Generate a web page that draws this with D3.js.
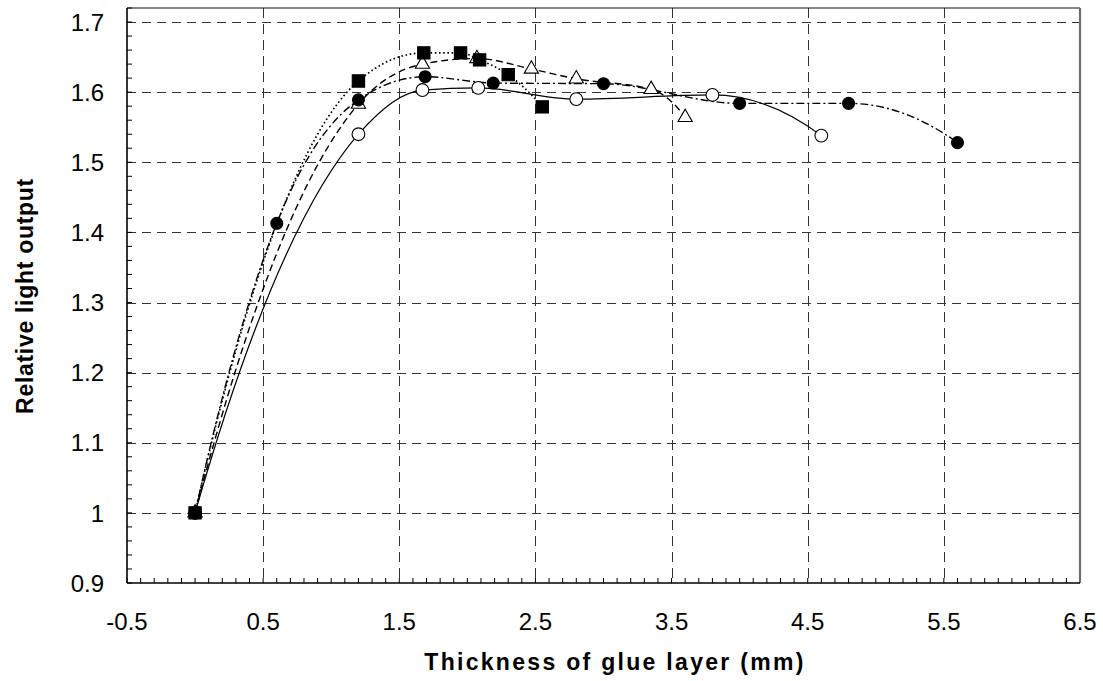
<!DOCTYPE html>
<html>
<head>
<meta charset="utf-8">
<script src="https://cdn.jsdelivr.net/npm/d3@7"></script>
<style>
  body { margin: 0; background: #fff; }
  text { font-family: Arial, "Liberation Sans", sans-serif; fill: #000; }
</style>
</head>
<body>
<script>
// thickness of glue layer (mm) and relative light output, one pair of arrays per series
var openX   = [0, 1.2, 1.67, 2.08, 2.8, 3.8, 4.6];
var openY   = [1.0, 1.540, 1.603, 1.606, 1.590, 1.596, 1.538];

var filledX = [0, 0.6, 1.2, 1.69, 2.19, 3.0, 4.0, 4.8, 5.6];
var filledY = [1.0, 1.413, 1.589, 1.622, 1.613, 1.612, 1.584, 1.584, 1.528];

var triX    = [0, 1.2, 1.67, 2.07, 2.47, 2.8, 3.35, 3.6];
var triY    = [1.0, 1.583, 1.640, 1.648, 1.633, 1.619, 1.604, 1.564];

var sqX     = [0, 1.2, 1.68, 1.95, 2.09, 2.3, 2.55];
var sqY     = [1.0, 1.616, 1.656, 1.656, 1.646, 1.625, 1.579];

var xTicks = [-0.5, 0.5, 1.5, 2.5, 3.5, 4.5, 5.5, 6.5];
var yTicks = [0.9, 1.0, 1.1, 1.2, 1.3, 1.4, 1.5, 1.6, 1.7];

var W = 1103, H = 681;
var plot = {left: 127, right: 1080, top: 8, bottom: 583};

var x = d3.scaleLinear().domain([-0.5, 6.5]).range([plot.left, plot.right]);
var y = d3.scaleLinear().domain([0.9, 1.72]).range([plot.bottom, plot.top]);

var svg = d3.select("body").append("svg")
    .attr("width", W)
    .attr("height", H);

// grid
svg.append("g").selectAll("line").data(yTicks.filter(d => d > 0.95))
  .enter().append("line")
    .attr("x1", plot.left).attr("x2", plot.right)
    .attr("y1", d => Math.round(y(d)) + 0.5).attr("y2", d => Math.round(y(d)) + 0.5)
    .style("stroke", "#333").style("stroke-width", 1).style("stroke-dasharray", "9,6");
svg.append("g").selectAll("line").data(xTicks.slice(1, -1))
  .enter().append("line")
    .attr("x1", d => Math.round(x(d)) + 0.5).attr("x2", d => Math.round(x(d)) + 0.5)
    .attr("y1", plot.top).attr("y2", plot.bottom)
    .style("stroke", "#333").style("stroke-width", 1).style("stroke-dasharray", "10,6");

// minor ticks, pointing inward
var xMinor = d3.range(-5, 66).map(i => i / 10);
var yMinor = d3.range(45, 87).map(i => i / 50);
svg.append("g").selectAll("line").data(xMinor)
  .enter().append("line")
    .attr("x1", d => x(d)).attr("x2", d => x(d))
    .attr("y1", plot.bottom).attr("y2", plot.bottom - 5)
    .style("stroke", "#000").style("stroke-width", 1);
svg.append("g").selectAll("line").data(yMinor)
  .enter().append("line")
    .attr("x1", plot.left).attr("x2", plot.left + 5)
    .attr("y1", d => y(d)).attr("y2", d => y(d))
    .style("stroke", "#000").style("stroke-width", 1);

// frame
svg.append("line").attr("x1", plot.left).attr("x2", plot.right).attr("y1", plot.top).attr("y2", plot.top)
    .style("stroke", "#111").style("stroke-width", 1.2);
svg.append("line").attr("x1", plot.right).attr("x2", plot.right).attr("y1", plot.top).attr("y2", plot.bottom)
    .style("stroke", "#6e6e6e").style("stroke-width", 2.2);
svg.append("line").attr("x1", plot.left).attr("x2", plot.left).attr("y1", plot.top).attr("y2", plot.bottom)
    .style("stroke", "#000").style("stroke-width", 1.6);
svg.append("line").attr("x1", plot.left).attr("x2", plot.right).attr("y1", plot.bottom).attr("y2", plot.bottom)
    .style("stroke", "#000").style("stroke-width", 1.6);

// tick labels
svg.append("g").selectAll("text").data(xTicks)
  .enter().append("text")
    .attr("x", d => x(d)).attr("y", 630)
    .attr("text-anchor", "middle")
    .style("font-size", "24px")
    .text(d => String(d));
svg.append("g").selectAll("text").data(yTicks)
  .enter().append("text")
    .attr("x", 104).attr("y", d => y(d)).attr("dy", "0.36em")
    .attr("text-anchor", "end")
    .style("font-size", "24px")
    .text(d => String(Math.round(d * 10) / 10));

// axis titles
svg.append("text")
    .attr("x", 615).attr("y", 670)
    .attr("text-anchor", "middle")
    .style("font-size", "23px").style("font-weight", "bold").style("letter-spacing", "2.3px")
    .text("Thickness of glue layer (mm)");
svg.append("text")
    .attr("transform", "translate(33,296) rotate(-90)")
    .attr("text-anchor", "middle")
    .style("font-size", "23px").style("font-weight", "bold").style("letter-spacing", "0.7px")
    .text("Relative light output");

// smooth curve through the points: monotone tangents inside, quadratic ends
function smoothPath(xs, ys) {
    var n = xs.length, s = [], m = [];
    for (var i = 0; i < n - 1; i++) s.push((ys[i + 1] - ys[i]) / (xs[i + 1] - xs[i]));
    for (var i = 1; i < n - 1; i++) {
        var h0 = xs[i] - xs[i - 1], h1 = xs[i + 1] - xs[i];
        var p = (s[i - 1] * h1 + s[i] * h0) / (h0 + h1);
        m[i] = (Math.sign(s[i - 1]) + Math.sign(s[i])) *
            Math.min(Math.abs(s[i - 1]), Math.abs(s[i]), 0.5 * Math.abs(p)) || 0;
    }
    function endSlope(sl, mi) {
        var v = 2 * sl - mi;
        return Math.sign(v) !== Math.sign(sl) ? 0 : v;
    }
    m[0] = n > 2 ? endSlope(s[0], m[1]) : s[0];
    m[n - 1] = n > 2 ? endSlope(s[n - 2], m[n - 2]) : s[n - 2];

    var path = d3.path();
    path.moveTo(x(xs[0]), y(ys[0]));
    for (var i = 0; i < n - 1; i++) {
        var h = (xs[i + 1] - xs[i]) / 3;
        path.bezierCurveTo(
            x(xs[i] + h), y(ys[i] + m[i] * h),
            x(xs[i + 1] - h), y(ys[i + 1] - m[i + 1] * h),
            x(xs[i + 1]), y(ys[i + 1]));
    }
    return path.toString();
}

var series = [
    {xs: openX,   ys: openY,   dash: null,        width: 1.2, symbol: d3.symbolCircle,   size: 128, fill: "#fff"},
    {xs: triX,    ys: triY,    dash: "7,4",       width: 1.4, symbol: d3.symbolTriangle, size: 88,  fill: "#fff"},
    {xs: sqX,     ys: sqY,     dash: "1.6,2.6",   width: 1.7, symbol: d3.symbolSquare,   size: 152, fill: "#000"},
    {xs: filledX, ys: filledY, dash: "8,3,2,3",   width: 1.4, symbol: d3.symbolCircle,   size: 112, fill: "#000"}
];

series.forEach(function(sr) {
    svg.append("path")
        .attr("d", smoothPath(sr.xs, sr.ys))
        .style("fill", "none").style("stroke", "#000")
        .style("stroke-width", sr.width)
        .style("stroke-dasharray", sr.dash);
});

series.forEach(function(sr) {
    svg.append("g").selectAll("path").data(sr.xs.map((v, i) => [v, sr.ys[i]]))
      .enter().append("path")
        .attr("transform", d => "translate(" + x(d[0]) + "," + y(d[1]) + ")")
        .attr("d", d3.symbol().type(sr.symbol).size(sr.size))
        .style("fill", sr.fill).style("stroke", "#000").style("stroke-width", 1.1);
});
</script>
</body>
</html>
